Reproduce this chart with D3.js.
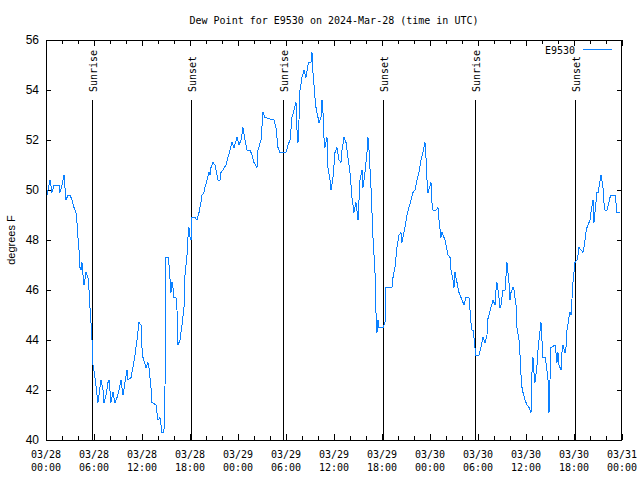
<!DOCTYPE html>
<html>
<head>
<meta charset="utf-8">
<script src="https://cdn.jsdelivr.net/npm/d3@7"></script>
<style>
  html, body { margin: 0; padding: 0; background: #fff; }
  svg { display: block; }
</style>
</head>
<body>
<script>
// ---- data (hours since 2024-03-28 00:00 UTC, dew point in °F) ----
const hours = [
  0,0.25,0.5,0.75,1.0,1.625,1.75,2.0,2.25,2.5,2.75,3.0,3.25,3.5,3.75,3.875,4.0,4.125,4.25,4.375,
  4.5,4.625,4.75,5.0,5.25,5.375,5.5,5.625,5.75,5.8,5.875,6.125,6.375,6.5,6.75,6.875,7.125,7.25,7.5,7.75,
  7.875,8.125,8.375,8.625,8.875,9.125,9.375,9.625,9.875,10.125,10.25,10.625,10.875,11.125,11.375,11.625,11.875,12.0,12.125,12.5,
  12.75,12.875,13.125,13.25,13.75,14.0,14.25,14.5,14.625,14.75,14.875,15.0,15.25,15.375,15.625,15.75,15.875,16.0,16.25,16.375,
  16.5,16.75,17.0,17.25,17.375,17.625,17.75,17.875,17.94,18.125,18.25,18.625,18.875,19.125,19.375,19.5,19.75,19.875,20.125,20.375,
  20.5,20.625,20.875,21.125,21.5,21.75,21.875,22.125,22.5,22.75,23.0,23.25,23.5,23.875,24.125,24.375,24.625,24.875,25.125,25.5,
  25.75,26.0,26.375,26.5,26.875,27.125,27.375,28.5,28.75,29.0,29.25,30.0,30.25,30.5,30.75,31.0,31.25,31.375,31.5,31.625,
  31.75,32.0,32.25,32.5,32.75,32.875,33.125,33.25,33.375,33.625,33.75,34.0,34.125,34.375,34.5,34.625,34.75,34.875,35.125,35.25,
  35.5,35.625,35.875,36.125,36.375,36.625,36.875,37.0,37.25,37.5,37.75,38.0,38.25,38.5,38.75,39.0,39.25,39.5,39.625,39.875,
  40.125,40.25,40.375,40.625,40.75,40.875,41.125,41.25,41.375,41.5,41.625,42.125,42.375,42.5,43.25,43.375,43.625,43.875,44.125,44.375,
  44.5,44.625,44.875,45.125,45.375,45.625,45.875,46.125,46.375,46.625,46.875,47.125,47.375,47.5,47.625,47.75,48.125,48.25,48.375,48.75,
  49.0,49.125,49.375,49.5,49.75,49.875,50.125,50.25,50.5,50.625,50.875,51.0,51.125,51.375,51.625,51.875,52.125,52.25,52.5,52.875,
  53.125,53.25,53.375,53.5,53.625,53.7,54.125,54.375,54.5,54.625,54.875,55.125,55.2,55.375,55.625,55.875,56.125,56.25,56.375,56.625,
  56.75,56.875,57.125,57.375,57.625,57.875,58.0,58.125,58.375,58.5,58.75,58.875,59.125,59.25,59.375,59.5,59.625,59.875,60.125,60.375,
  60.625,60.75,60.875,61.0,61.125,61.375,61.5,61.625,61.875,61.94,62.125,62.375,62.5,62.75,62.875,63.0,63.125,63.625,63.75,63.875,
  64.0,64.125,64.375,64.5,64.625,64.875,65.0,65.125,65.375,65.5,65.625,65.875,66.125,66.375,66.5,66.625,66.875,67.125,67.25,67.375,
  67.5,67.625,67.875,68.0,68.125,68.375,68.5,68.625,68.875,69.0,69.125,69.375,69.625,69.75,69.875,70.125,70.375,70.5,70.625,71.125,
  71.25,71.375,71.75
];
const dewPoint = [
  49.6,50.0,50.4,49.9,50.2,50.2,49.9,50.2,50.6,49.6,49.8,49.8,49.6,49.3,49.1,48.7,48.1,47.6,46.9,46.8,
  47.1,46.6,46.2,46.7,46.5,46.0,45.3,44.7,44.0,43.5,43.0,42.5,41.8,41.5,42.1,42.4,42.0,41.5,41.8,42.3,
  42.4,41.5,41.9,41.5,41.7,42.0,42.4,41.8,42.3,42.8,42.4,42.5,42.9,43.4,44.0,44.7,44.6,43.7,43.3,42.9,
  43.1,42.9,42.1,41.5,41.4,40.8,40.9,40.3,40.3,40.4,42.1,47.3,47.3,47.0,45.9,46.3,46.1,45.7,45.7,45.2,
  43.8,44.0,44.6,45.3,46.6,47.4,48.1,48.5,48.2,48.0,48.9,48.9,48.8,49.1,49.5,49.8,49.9,50.1,50.4,50.7,
  50.6,50.9,51.1,51.0,50.4,50.4,50.7,50.8,51.0,51.3,51.6,51.9,51.7,52.1,51.8,52.0,52.5,52.0,51.6,51.6,
  51.4,51.1,50.9,51.6,52.0,53.1,52.9,52.8,52.5,51.7,51.5,51.5,51.8,52.0,52.9,53.2,53.5,52.4,51.9,52.8,
  54.0,54.5,54.8,54.5,55.0,55.1,55.1,55.5,54.7,53.7,53.3,52.9,52.7,52.9,53.6,53.1,52.1,51.7,52.1,50.9,
  50.4,50.0,50.5,51.5,51.7,51.2,51.1,51.6,52.1,51.9,51.3,50.7,49.7,49.1,49.5,48.8,50.4,50.8,50.1,50.7,
  51.5,52.1,51.6,50.1,49.1,48.1,46.7,45.1,44.3,44.8,44.5,44.5,44.7,46.1,46.1,46.5,46.9,47.7,48.2,48.3,
  47.9,48.1,48.5,49.0,49.3,49.6,49.9,50.0,50.4,50.7,51.2,51.5,51.9,51.3,50.4,49.9,50.3,49.5,49.2,49.2,
  49.3,48.8,48.1,48.3,48.1,48.0,47.6,47.4,47.3,46.8,46.4,46.1,46.7,46.3,45.9,45.7,45.5,45.4,45.7,45.7,
  44.7,44.4,44.4,44.1,43.7,43.4,43.4,43.7,43.9,44.1,43.9,44.2,44.8,45.0,45.3,45.6,45.4,46.0,46.3,45.7,
  45.3,45.4,46.0,46.0,47.1,46.3,45.6,45.9,46.1,46.0,45.4,44.5,44.0,43.4,42.6,42.1,41.9,41.6,41.4,41.3,
  41.1,42.7,43.3,42.7,42.3,43.0,43.6,44.0,44.7,44.3,43.3,43.3,43.1,42.4,41.1,42.4,43.7,43.8,43.5,43.1,
  43.5,43.0,42.8,43.5,43.8,43.5,43.7,44.4,44.9,45.1,45.0,46.3,47.1,47.2,47.4,47.7,47.6,47.5,47.7,48.0,
  48.3,48.5,48.7,48.8,49.1,49.6,48.7,49.1,49.9,49.9,50.1,50.6,50.1,49.5,49.2,49.2,49.5,49.7,49.8,49.8,
  49.5,49.1,49.1
];
// sun events (hours since start)
const sunEventHours = [5.75, 18.17, 29.67, 42.17, 53.67, 66.17];
const sunEventLabels = ["Sunrise", "Sunset", "Sunrise", "Sunset", "Sunrise", "Sunset"];
const yTicks = [40, 42, 44, 46, 48, 50, 52, 54, 56];
const xTickHours = [0, 6, 12, 18, 24, 30, 36, 42, 48, 54, 60, 66, 72];
const xMinorHours = d3.range(0, 73, 2);
const titleText = "Dew Point for E9530 on 2024-Mar-28 (time in UTC)";
const yLabel = "degrees F";
const seriesName = "E9530";

// ---- layout ----
const W = 640, H = 480;
const L = 46, R = 622, T = 40, B = 440;
const t0 = Date.UTC(2024, 2, 28, 0, 0);
const toDate = h => new Date(t0 + h * 3600e3);
const mono = "'DejaVu Sans Mono', 'Liberation Mono', monospace";
const sans = "'Liberation Sans', Arial, sans-serif";
const blue = "#0a80ff";

const svg = d3.select("body").append("svg").attr("width", W).attr("height", H);

const x = d3.scaleUtc().domain([toDate(0), toDate(72)]).range([L, R]);
const y = d3.scaleLinear().domain([40, 56]).range([B, T]);

const data = hours.map((h, i) => ({ t: toDate(h), v: dewPoint[i] }));

// title
svg.append("text").attr("x", (L + R) / 2).attr("y", 23.5)
  .attr("text-anchor", "middle").attr("font-family", mono).attr("font-size", 10)
  .text(titleText);

// y axis label
svg.append("text").attr("transform", `translate(15,${(T + B) / 2}) rotate(-90)`)
  .attr("text-anchor", "middle").attr("font-family", sans).attr("font-size", 11)
  .text(yLabel);

// ticks (inward on all sides)
const tickG = svg.append("g").attr("stroke", "#000").attr("stroke-width", 1)
  .attr("shape-rendering", "crispEdges");
yTicks.forEach(v => {
  const yy = Math.round(y(v)) + 0.5;
  tickG.append("line").attr("x1", L).attr("x2", L + 5).attr("y1", yy).attr("y2", yy);
  tickG.append("line").attr("x1", R - 5).attr("x2", R).attr("y1", yy).attr("y2", yy);
});
xMinorHours.forEach(h => {
  const xx = Math.round(x(toDate(h))) + 0.5;
  const len = (h % 6 === 0) ? 6 : 4;
  tickG.append("line").attr("x1", xx).attr("x2", xx).attr("y1", B).attr("y2", B - len);
  tickG.append("line").attr("x1", xx).attr("x2", xx).attr("y1", T).attr("y2", T + len);
});

// y tick labels
svg.append("g").selectAll("text").data(yTicks).join("text")
  .attr("x", 39).attr("y", d => y(d) + 4)
  .attr("text-anchor", "end").attr("font-family", sans).attr("font-size", 12)
  .text(d => d);

// x tick labels (two lines)
const fmt1 = d3.utcFormat("%m/%d"), fmt2 = d3.utcFormat("%H:%M");
const xl = svg.append("g").selectAll("text").data(xTickHours).join("text")
  .attr("text-anchor", "middle").attr("font-family", mono).attr("font-size", 10);
xl.append("tspan").attr("x", h => x(toDate(h))).attr("y", 458).text(h => fmt1(toDate(h)));
xl.append("tspan").attr("x", h => x(toDate(h))).attr("y", 471).text(h => fmt2(toDate(h)));

// sun event lines and labels
sunEventHours.forEach((h, i) => {
  const xx = Math.round(x(toDate(h))) + 0.5;
  svg.append("line").attr("x1", xx).attr("x2", xx).attr("y1", 100).attr("y2", B)
    .attr("stroke", "#000").attr("stroke-width", 1).attr("shape-rendering", "crispEdges");
  svg.append("text").attr("transform", `translate(${xx + 4},92) rotate(-90)`)
    .attr("font-family", mono).attr("font-size", 10).text(sunEventLabels[i]);
});

// data line
const line = d3.line().x(d => x(d.t)).y(d => y(d.v));
svg.append("path").datum(data).attr("d", line)
  .attr("fill", "none").attr("stroke", blue).attr("stroke-width", 1)
  .attr("shape-rendering", "crispEdges");

// border
svg.append("rect").attr("x", L + 0.5).attr("y", T + 0.5).attr("width", R - L - 1).attr("height", B - T)
  .attr("fill", "none").attr("stroke", "#000").attr("stroke-width", 1).attr("shape-rendering", "crispEdges");

// legend
svg.append("text").attr("x", 575).attr("y", 53.5).attr("text-anchor", "end")
  .attr("font-family", mono).attr("font-size", 10).text(seriesName);
svg.append("line").attr("x1", 583).attr("x2", 612).attr("y1", 49.5).attr("y2", 49.5)
  .attr("stroke", blue).attr("stroke-width", 1).attr("shape-rendering", "crispEdges");
</script>
</body>
</html>
